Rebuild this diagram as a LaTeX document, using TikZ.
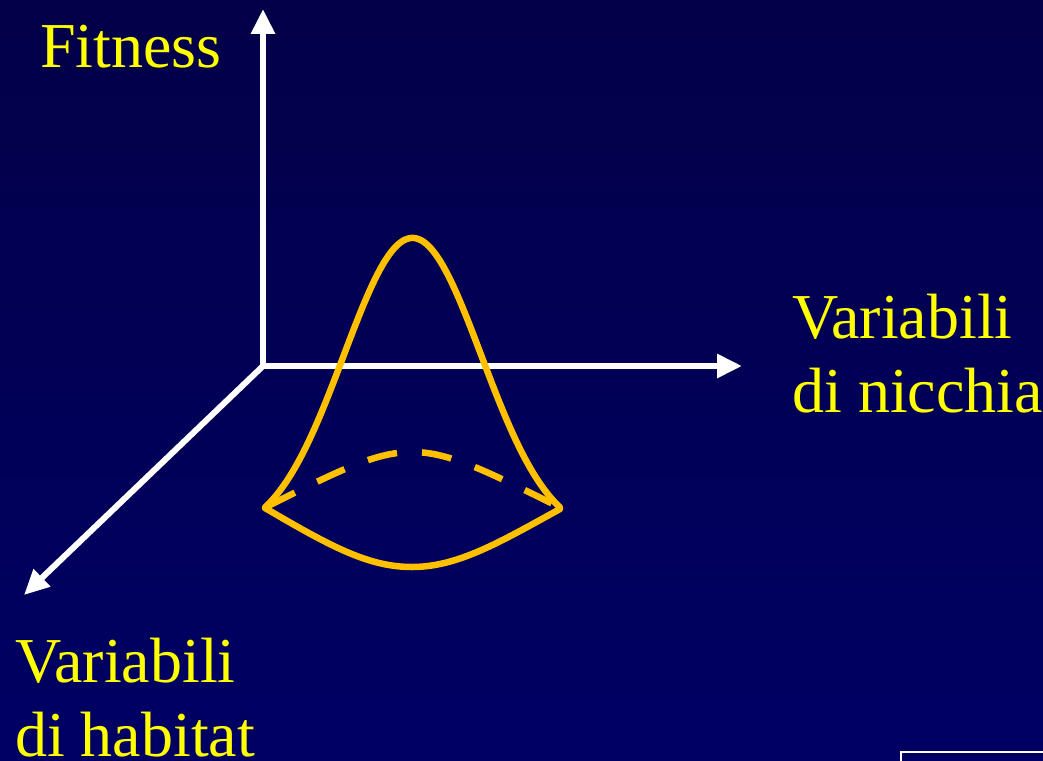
\documentclass[tikz,border=0pt]{standalone}
\usepackage{fontspec}
\setmainfont{Liberation Serif}
\usetikzlibrary{arrows.meta}
\definecolor{bgtop}{RGB}{2,0,72}
\definecolor{bgbot}{RGB}{0,0,100}
\definecolor{bellc}{RGB}{255,192,0}
\definecolor{labc}{RGB}{255,255,0}
\begin{document}
\begin{tikzpicture}[x=1pt,y=-1pt,
  axis/.style={draw=white,line width=6pt,-{Triangle[width=23pt,length=25pt]}},
  bell/.style={draw=bellc,line width=6.5pt,line join=round,line cap=round},
  lab/.style={text=labc,font=\fontsize{64}{74}\selectfont,align=left,anchor=base west,inner sep=0pt}]
\useasboundingbox (0,0) rectangle (1043,760);
\shade[top color=bgtop,bottom color=bgbot] (0,0) rectangle (1043,760);
% axes
\coordinate (O) at (263,366);
\coordinate (Ftip) at (263,9);
\coordinate (Ntip) at (742,366);
\coordinate (Htip) at (24,595);
\draw[axis] (O) -- (Ftip);
\draw[axis] (O) -- (Ntip);
\draw[axis] (O) -- (Htip);
% bell
\coordinate (L) at (265,508);
\coordinate (R) at (560,509);
\coordinate (B) at (412,567);
\draw[bell] plot[domain=265:560,samples=120] (\x,{538-300*exp(-0.5*((\x-412.5)/69)^2)});
\draw[bell] (L) .. controls (330,546) and (368,567) .. (B) .. controls (458,567) and (500,542) .. (R);
\draw[bell,dash pattern=on 30pt off 25pt,line cap=butt] (268,506) .. controls (412,434) .. (557,506);
% labels
\node[lab] (fit) at (40,67) {Fitness};
\node[lab] (nic) at (792,412) {Variabili\\di nicchia};
\node[lab] (hab) at (15,756) {Variabili\\di habitat};
% corner box
\draw[white,line width=2pt] (1050,752) -- (901,752) -- (901,770);
\end{tikzpicture}
\end{document}
